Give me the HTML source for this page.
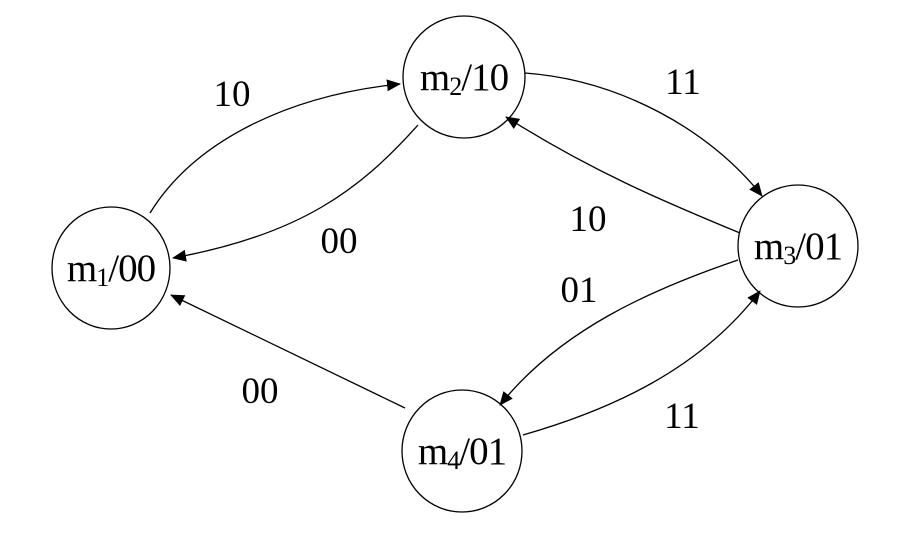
<!DOCTYPE html>
<html><head><style>body{margin:0;background:#fff}svg{display:block}</style></head><body>
<svg width="914" height="548" viewBox="0 0 914 548" xmlns="http://www.w3.org/2000/svg" font-family="Liberation Serif, serif">
<defs><marker id="a" markerWidth="14" markerHeight="12" refX="13" refY="6" orient="auto" markerUnits="userSpaceOnUse"><path d="M0,0 L14,6 L0,12 z" fill="#000"/></marker></defs>
<g fill="none" stroke="#000" stroke-width="1.3">
<ellipse cx="111" cy="268" rx="59" ry="61"/>
<ellipse cx="464" cy="77" rx="61" ry="61"/>
<ellipse cx="798" cy="246" rx="60" ry="61"/>
<ellipse cx="462" cy="451" rx="60" ry="61"/>
<path d="M150,213 C195,140 290,95 400,84" marker-end="url(#a)"/>
<path d="M418,125 C360,190 300,235 173,258" marker-end="url(#a)"/>
<path d="M525,73 C620,80 710,130 762,196" marker-end="url(#a)"/>
<path d="M740,233 C660,200 590,170 506,117" marker-end="url(#a)"/>
<path d="M738,260 C650,290 560,330 500,405" marker-end="url(#a)"/>
<path d="M523,435 C610,410 700,370 760,291" marker-end="url(#a)"/>
<path d="M405,408 L171,295" marker-end="url(#a)"/>
</g>
<g fill="#000" text-anchor="middle" font-size="39">
<text x="111" y="281" letter-spacing="-1">m<tspan font-size="26" dy="5">1</tspan><tspan dy="-5">/00</tspan></text>
<text x="464" y="90" letter-spacing="-1">m<tspan font-size="26" dy="5">2</tspan><tspan dy="-5">/10</tspan></text>
<text x="798" y="259" letter-spacing="-1">m<tspan font-size="26" dy="5">3</tspan><tspan dy="-5">/01</tspan></text>
<text x="462" y="464" letter-spacing="-1">m<tspan font-size="26" dy="5">4</tspan><tspan dy="-5">/01</tspan></text>
</g>
<g fill="#000" text-anchor="middle" font-size="37">
<text x="232" y="106">10</text>
<text x="339" y="253">00</text>
<text x="683" y="94">11</text>
<text x="588" y="231">10</text>
<text x="579" y="302">01</text>
<text x="682" y="428">11</text>
<text x="260" y="403">00</text>
</g>
</svg>
</body></html>
